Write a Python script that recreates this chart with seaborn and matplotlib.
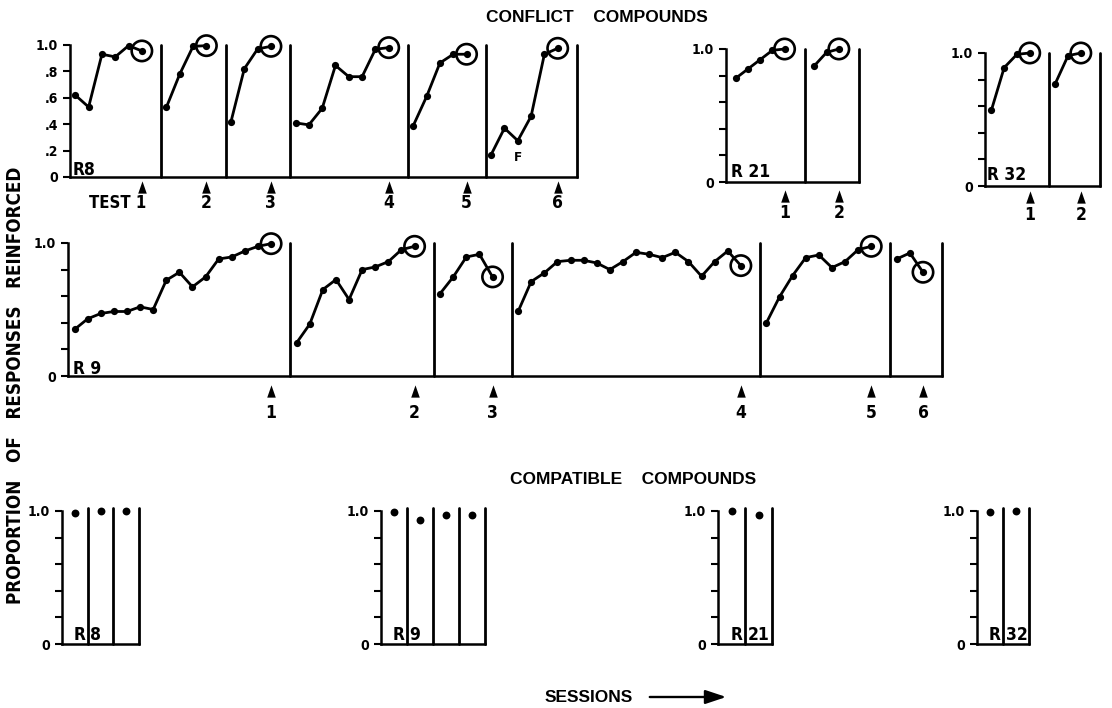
import os
import matplotlib
matplotlib.use("Agg")
import numpy as np
import pandas as pd
import matplotlib.pyplot as plt
from matplotlib import font_manager
from matplotlib.font_manager import FontProperties
from matplotlib.path import Path
from matplotlib.patches import FancyArrowPatch
import seaborn as sns

# ---------------- data ----------------
# Conflict compounds, R8 (six tests)
R8_TEST1 = [0.62, 0.53, 0.93, 0.91, 0.995, 0.955]
R8_TEST2 = [0.53, 0.78, 0.99, 0.995]
R8_TEST3 = [0.42, 0.82, 0.97, 0.99]
R8_TEST4 = [0.41, 0.395, 0.52, 0.845, 0.76, 0.76, 0.968, 0.98]
R8_TEST5 = [0.39, 0.61, 0.864, 0.93, 0.93]
R8_TEST6 = [0.17, 0.37, 0.275, 0.46, 0.93, 0.975]
R8_LABELS = ["TEST 1", "2", "3", "4", "5", "6"]

# Conflict compounds, R21 and R32 (two tests)
R21_TEST1 = [0.78, 0.85, 0.92, 0.99, 1.0]
R21_TEST2 = [0.875, 0.975, 1.0]
R32_TEST1 = [0.57, 0.89, 0.99, 1.0]
R32_TEST2 = [0.77, 0.98, 1.0]
PAIR_LABELS = ["1", "2"]

# Conflict compounds, R9 (six tests)
R9_TEST1 = [0.35, 0.43, 0.47, 0.485, 0.485, 0.52, 0.50, 0.72, 0.78, 0.67,
            0.745, 0.88, 0.895, 0.94, 0.975, 0.995]
R9_TEST2 = [0.25, 0.39, 0.65, 0.725, 0.575, 0.80, 0.82, 0.86, 0.95, 0.975]
R9_TEST3 = [0.62, 0.745, 0.895, 0.915, 0.745]
R9_TEST4 = [0.485, 0.71, 0.775, 0.86, 0.87, 0.87, 0.85, 0.80, 0.86, 0.93,
            0.915, 0.89, 0.93, 0.86, 0.75, 0.86, 0.94, 0.83]
R9_TEST5 = [0.40, 0.595, 0.755, 0.89, 0.91, 0.815, 0.86, 0.95, 0.975]
R9_TEST6 = [0.88, 0.925, 0.78]
R9_LABELS = ["1", "2", "3", "4", "5", "6"]

# Compatible compounds (one session per test)
R8_COMPAT = [0.985, 1.0, 1.0]
R9_COMPAT = [0.995, 0.93, 0.97, 0.97]
R21_COMPAT = [1.0, 0.97]
R32_COMPAT = [0.99, 1.0]

Y_TICKS = [0.0, 0.2, 0.4, 0.6, 0.8, 1.0]
R8_TICK_LABELS = ["0", ".2", ".4", ".6", ".8", "1.0"]
END_TICK_LABELS = ["0", "", "", "", "", "1.0"]

# ---------------- style ----------------
sns.set_theme(style="white")
names = {f.name for f in font_manager.fontManager.ttflist}
BASE = "Liberation Sans" if "Liberation Sans" in names else "DejaVu Sans"
plt.rcParams["font.family"] = [BASE, "DejaVu Sans"]
plt.rcParams["font.weight"] = "bold"
for key in ["text.color", "axes.labelcolor", "xtick.color", "ytick.color",
            "axes.edgecolor"]:
    plt.rcParams[key] = "black"

# look for a bold condensed face (the scan uses a condensed bold sans)
COND_PATH = None
prefs = ["liberationsansnarrow-bold.", "dejavusanscondensed-bold.",
         "notosans-condensedbold.", "robotocondensed-bold.", "opensans-condbold."]
files = [f.fname for f in font_manager.fontManager.ttflist]
for p in prefs:
    for fn in files:
        if os.path.basename(fn).lower().startswith(p):
            COND_PATH = fn
            break
    if COND_PATH:
        break


def cond_font(size):
    if COND_PATH:
        return FontProperties(fname=COND_PATH, size=size)
    return FontProperties(family=BASE, weight="bold", size=size * 0.85)


W, H = 1112, 708
fig = plt.figure(figsize=(W / 100, H / 100), dpi=100)
fig.patch.set_facecolor("white")

TRI = Path([(-0.35, -0.5), (0.35, -0.5), (0.0, 0.5), (-0.35, -0.5)],
           [Path.MOVETO, Path.LINETO, Path.LINETO, Path.CLOSEPOLY])


def add_ax(x0, x1, ytop, ybase):
    return fig.add_axes([x0 / W, 1 - ybase / H, (x1 - x0) / W, (ybase - ytop) / H])


def style_axis(ax, tick_labels):
    ax.set_ylim(0, 1)
    ax.set_facecolor("none")
    for s in ["top", "right"]:
        ax.spines[s].set_visible(False)
    for s in ["left", "bottom"]:
        ax.spines[s].set_linewidth(1.8)
        ax.spines[s].set_color("black")
        ax.spines[s].set_capstyle("projecting")
    ax.set_xticks([])
    ax.set_yticks(Y_TICKS)
    ax.set_yticklabels(tick_labels)
    for t in ax.get_yticklabels():
        t.set_fontproperties(cond_font(10))
        t.set_color("black")
    ax.tick_params(axis="y", left=True, direction="out", length=5, width=1.5,
                   pad=3.5, colors="black")
    ax.set_xlabel("")
    ax.set_ylabel("")
    ax.grid(False)


def conflict_row(ax, panels, labels, lead, trail, arrow_y, label_y, tick_labels):
    pos = 0.0
    for vals, lab in zip(panels, labels):
        xs = pos + lead + np.arange(len(vals), dtype=float)
        df = pd.DataFrame({"session": xs, "proportion": vals})
        sns.lineplot(data=df, x="session", y="proportion", ax=ax, color="black",
                     lw=2.0, marker="o", markersize=5.2, markeredgewidth=0,
                     estimator=None, sort=False, clip_on=False, zorder=4)
        last = df.iloc[[-1]]
        sns.scatterplot(data=last, x="session", y="proportion", ax=ax, s=215,
                        facecolor="none", edgecolor="black", linewidth=1.9,
                        clip_on=False, zorder=5)
        arr = pd.DataFrame({"session": [xs[-1]], "y": [arrow_y]})
        sns.scatterplot(data=arr, x="session", y="y", ax=ax, marker=TRI, s=78,
                        color="black", edgecolor="black", linewidth=0,
                        clip_on=False, zorder=5)
        if len(lab) > 2:
            ax.text(xs[-1] + 0.3, label_y, lab, ha="right", va="center",
                    fontproperties=cond_font(12), clip_on=False)
        else:
            ax.text(xs[-1], label_y, lab, ha="center", va="center",
                    fontproperties=cond_font(12.5), clip_on=False)
        pos = xs[-1] + trail
        ax.axvline(pos, 0, 1, color="black", lw=2.0, clip_on=False, zorder=3)
    style_axis(ax, tick_labels)
    ax.set_xlim(0, pos)
    return pos


def subject_label(ax, x, y, text):
    ax.text(x, y, text, ha="left", va="baseline", fontproperties=cond_font(12.5),
            zorder=6)


# ---- R8 conflict ----
ax_r8 = add_ax(70, 577, 45, 177)
conflict_row(ax_r8, [R8_TEST1, R8_TEST2, R8_TEST3, R8_TEST4, R8_TEST5, R8_TEST6],
             R8_LABELS, 0.4, 1.45, -0.076, -0.20, R8_TICK_LABELS)
subject_label(ax_r8, 0.2, 0.015, "R8")
# "F" mark under the third session of test 6
x_f = sum(len(p) for p in [R8_TEST1, R8_TEST2, R8_TEST3, R8_TEST4, R8_TEST5]) \
    + 5 * (0.4 + 1.45 - 1) + 0.4 + 2
ax_r8.text(x_f, 0.145, "F", ha="center", va="center", fontproperties=cond_font(9.5))

# ---- R21 conflict ----
ax_r21 = add_ax(726, 859, 49, 182)
conflict_row(ax_r21, [R21_TEST1, R21_TEST2], PAIR_LABELS, 0.8, 1.65,
             -0.105, -0.235, END_TICK_LABELS)
subject_label(ax_r21, 0.45, 0.035, "R 21")

# ---- R32 conflict ----
ax_r32 = add_ax(985, 1100, 53, 186)
conflict_row(ax_r32, [R32_TEST1, R32_TEST2], PAIR_LABELS, 0.5, 1.5,
             -0.085, -0.215, END_TICK_LABELS)
subject_label(ax_r32, 0.15, 0.045, "R 32")

# ---- R9 conflict ----
ax_r9 = add_ax(68, 942, 243, 376)
conflict_row(ax_r9, [R9_TEST1, R9_TEST2, R9_TEST3, R9_TEST4, R9_TEST5, R9_TEST6],
             R9_LABELS, 0.5, 1.45, -0.113, -0.278, END_TICK_LABELS)
subject_label(ax_r9, 0.35, 0.012, "R 9")


# ---- compatible compounds ----
def compat_panel(x0, x1, vals, num):
    ax = add_ax(x0, x1, 511, 644)
    xs = np.arange(len(vals), dtype=float) + 0.5
    df = pd.DataFrame({"test": xs, "proportion": vals})
    sns.scatterplot(data=df, x="test", y="proportion", ax=ax, color="black",
                    s=32, linewidth=0, clip_on=False, zorder=5)
    for i in range(1, len(vals) + 1):
        ax.axvline(i, 0, 1.02, color="black", lw=2.0, clip_on=False, zorder=3)
    style_axis(ax, END_TICK_LABELS)
    ax.set_xlim(0, len(vals))
    ax.text(0.9, 0.03, "R", ha="right", va="baseline", fontproperties=cond_font(12.5))
    ax.text(1.1, 0.03, num, ha="left", va="baseline", fontproperties=cond_font(12.5))
    return ax


compat_panel(62, 139, R8_COMPAT, "8")
compat_panel(381, 485, R9_COMPAT, "9")
compat_panel(718, 772, R21_COMPAT, "21")
compat_panel(977, 1029, R32_COMPAT, "32")

# ---- figure texts ----
fig.text(597 / W, 1 - 18 / H, "CONFLICT    COMPOUNDS", ha="center", va="center",
         fontsize=12.5, fontweight="bold", family=BASE, color="black")
fig.text(633 / W, 1 - 479 / H, "COMPATIBLE    COMPOUNDS", ha="center", va="center",
         fontsize=12.5, fontweight="bold", family=BASE, color="black")
fig.text(16 / W, 1 - 385 / H, "PROPORTION   OF   RESPONSES   REINFORCED",
         rotation=90, ha="center", va="center", fontproperties=cond_font(13.5),
         color="black")
fig.text(545 / W, 1 - 697 / H, "SESSIONS", ha="left", va="center",
         fontsize=12.5, fontweight="bold", family=BASE, color="black")
fig.add_artist(FancyArrowPatch((647 / W, 1 - 697 / H), (729 / W, 1 - 697 / H),
                               transform=fig.transFigure,
                               arrowstyle="-|>,head_length=0.9,head_width=0.3",
                               mutation_scale=14, lw=1.7, color="black"))

fig.savefig("out.png", dpi=100, facecolor="white")
